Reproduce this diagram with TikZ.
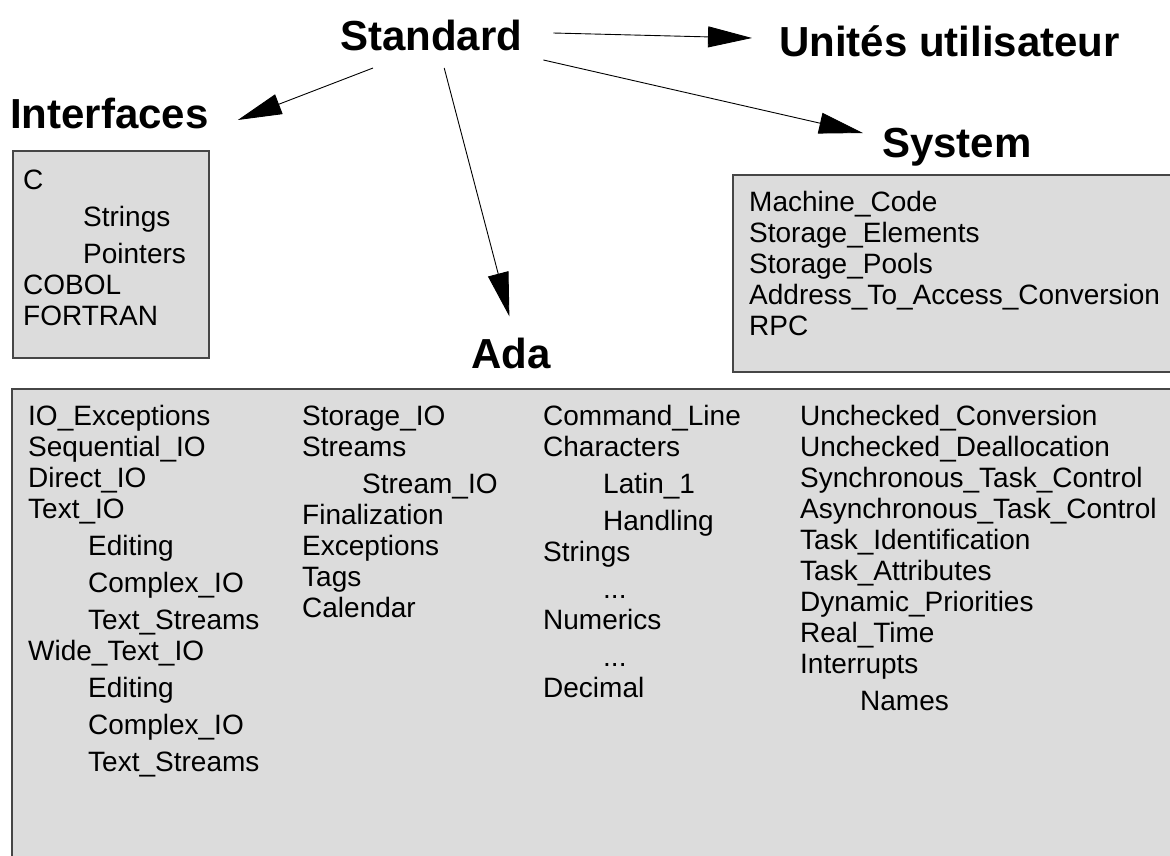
\documentclass[tikz,border=0pt]{standalone}
\usepackage{fontspec}
\setmainfont{Liberation Sans}
\usetikzlibrary{arrows.meta}
\definecolor{panel}{RGB}{220,220,220}
\definecolor{frame}{RGB}{70,70,70}
\begin{document}
\begin{tikzpicture}[x=1pt,y=-1pt,
  heading/.style={font=\fontsize{42}{50}\selectfont\bfseries, inner sep=0pt, anchor=base west},
  entry/.style={font=\fontsize{28}{34}\selectfont, inner sep=0pt, anchor=base west},
  panelbox/.style={fill=panel, draw=frame, line width=1.2pt},
  link/.style={line width=0.9pt, -{Triangle[length=44pt,width=21pt]}}]
\useasboundingbox (0,0) rectangle (1170,855);
\clip (0,0) rectangle (1170,855);
\fill[white] (0,0) rectangle (1170,855);

% package panels
\draw[panelbox] (13,151) rectangle (209,358);
\draw[panelbox] (733,175) rectangle (1190,372);
\draw[panelbox] (12,389) rectangle (1190,880);

% package headings
\node[heading] (std) at (340,50) {Standard};
\node[heading] (uni) at (779,56) {Unités utilisateur};
\node[heading] (ifc) at (10,128) {Interfaces};
\node[heading] (sys) at (882,157) {System};
\node[heading] (ada) at (471,368) {Ada};

% dependencies
\draw[link] ([shift={(31,-17)}]std.base east) -- ([shift={(-27,-18)}]uni.base west);
\draw[link] ([shift={(21,10)}]std.base east) -- ([shift={(-19,-24)}]sys.base west);
\draw[link] ([shift={(33,18)}]std.base west) -- ([shift={(29,-8)}]ifc.base east);
\draw[link] ([shift={(13,18)}]std.base) -- ([shift={(-1.5,-21)}]ada.north);

% Interfaces children
\foreach \x/\y/\t [count=\i] in {23/189/C, 83/226/Strings, 83/263/Pointers,
    23/294/COBOL, 23/325/FORTRAN}
  \node[entry] (ifc\i) at (\x,\y) {\t};

% System children
\foreach \y/\t [count=\i] in {211/Machine\_Code, 242/Storage\_Elements,
    273/Storage\_Pools, 304/Address\_To\_Access\_Conversion, 335/RPC}
  \node[entry] (sys\i) at (749,\y) {\t};

% Ada children, first column
\foreach \x/\y/\t [count=\i] in {28/425/IO\_Exceptions, 28/456/Sequential\_IO,
    28/487/Direct\_IO, 28/518/Text\_IO, 88/555/Editing, 88/592/Complex\_IO,
    88/629/Text\_Streams, 28/660/Wide\_Text\_IO, 88/697/Editing,
    88/734/Complex\_IO, 88/771/Text\_Streams}
  \node[entry] (adaA\i) at (\x,\y) {\t};

% second column
\foreach \x/\y/\t [count=\i] in {302/425/Storage\_IO, 302/456/Streams,
    362/493/Stream\_IO, 302/524/Finalization, 302/555/Exceptions,
    302/586/Tags, 302/617/Calendar}
  \node[entry] (adaB\i) at (\x,\y) {\t};

% third column (elided sub-units written as .{}.{}. to keep \foreach happy)
\foreach \x/\y/\t [count=\i] in {543/425/Command\_Line, 543/456/Characters,
    603/493/Latin\_1, 603/530/Handling, 543/561/Strings, 603/598/.{}.{}.,
    543/629/Numerics, 603/666/.{}.{}., 543/697/Decimal}
  \node[entry] (adaC\i) at (\x,\y) {\t};

% fourth column
\foreach \x/\y/\t [count=\i] in {800/425/Unchecked\_Conversion,
    800/456/Unchecked\_Deallocation, 800/487/Synchronous\_Task\_Control,
    800/518/Asynchronous\_Task\_Control, 800/549/Task\_Identification,
    800/580/Task\_Attributes, 800/611/Dynamic\_Priorities,
    800/642/Real\_Time, 800/673/Interrupts, 860/710/Names}
  \node[entry] (adaD\i) at (\x,\y) {\t};
\end{tikzpicture}
\end{document}
